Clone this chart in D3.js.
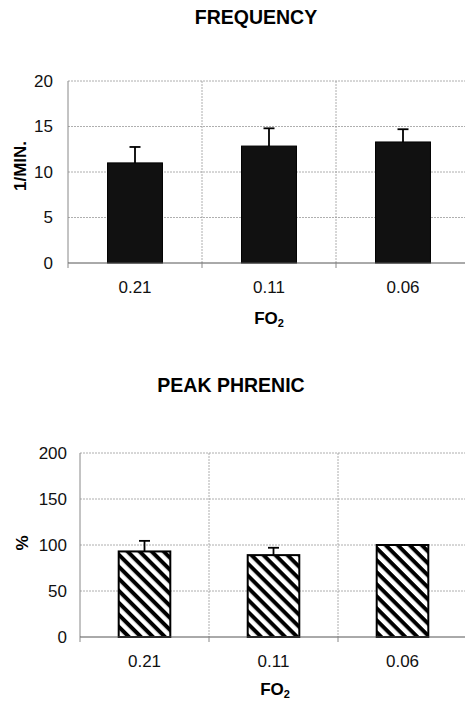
<!DOCTYPE html>
<html>
<head>
<meta charset="utf-8">
<script src="https://cdn.jsdelivr.net/npm/d3@7"></script>
<style>
  body { margin: 0; background: #fff; }
  svg { display: block; font-family: "Liberation Sans", Arial, sans-serif; }
  .grid line { stroke: #9a9a9a; stroke-width: 0.8; stroke-dasharray: 2,1; }
  .tick-label { font-size: 17px; fill: #111; }
  .title { font-size: 19.5px; font-weight: bold; text-anchor: middle; }
  .axis-title { font-size: 17px; font-weight: bold; text-anchor: middle; }
</style>
</head>
<body>
<svg id="fig" width="465" height="702"></svg>
<script>
// oxygen fraction categories shared by both panels
const fo2Levels = ["0.21", "0.11", "0.06"];

// breathing frequency (1/min), mean and upper error
const freqMean = [11.0, 12.85, 13.3];
const freqErr = [1.75, 1.95, 1.4];
const freqTicks = [0, 5, 10, 15, 20];

// peak phrenic amplitude (% of control)
const phrenicMean = [93, 89, 100];
const phrenicErr = [11.5, 8, 0];
const phrenicTicks = [0, 50, 100, 150, 200];

const svg = d3.select("#fig");

// diagonal hatch, lines running top-left to bottom-right
const defs = svg.append("defs");
const pat = defs.append("pattern")
    .attr("id", "hatch")
    .attr("patternUnits", "userSpaceOnUse")
    .attr("width", 8.5).attr("height", 8.5)
    .attr("patternTransform", "rotate(45)");
pat.append("rect").attr("width", 8.5).attr("height", 8.5).attr("fill", "#fff");
pat.append("rect").attr("x", 0).attr("y", 0).attr("width", 8.5).attr("height", 4).attr("fill", "#000");

function panel(cfg) {
    const g = svg.append("g").attr("transform", `translate(${cfg.left}, ${cfg.top})`);
    const w = cfg.width, h = cfg.height;

    const x = d3.scaleBand().domain(fo2Levels).range([0, w]);
    const y = d3.scaleLinear().domain([0, d3.max(cfg.ticks)]).range([h, 0]);

    const data = fo2Levels.map((c, i) => ({cat: c, v: cfg.mean[i], e: cfg.err[i]}));

    // horizontal gridlines
    g.append("g").attr("class", "grid")
        .selectAll("line").data(cfg.ticks.filter(t => t > 0)).join("line")
        .attr("x1", 0).attr("x2", w)
        .attr("y1", d => y(d)).attr("y2", d => y(d));

    // vertical gridlines at category boundaries
    const bounds = fo2Levels.slice(1).map(c => x(c)).concat([w]);
    g.append("g").attr("class", "grid")
        .selectAll("line").data(bounds).join("line")
        .attr("x1", d => d).attr("x2", d => d)
        .attr("y1", 0).attr("y2", h);

    // left axis line
    g.append("line").attr("x1", 0).attr("x2", 0).attr("y1", 0).attr("y2", h)
        .attr("stroke", "#888").attr("stroke-width", 1);

    // y tick labels
    g.selectAll(".ylab").data(cfg.ticks).join("text")
        .attr("class", "tick-label")
        .attr("x", cfg.yLabX).attr("y", d => y(d)).attr("dy", "0.35em")
        .attr("text-anchor", "end")
        .text(d => d);

    // bars
    const bw = x.bandwidth() * cfg.barFrac;
    g.selectAll(".bar").data(data).join("rect")
        .attr("x", d => x(d.cat) + (x.bandwidth() - bw) / 2)
        .attr("y", d => y(d.v))
        .attr("width", bw)
        .attr("height", d => h - y(d.v))
        .attr("fill", cfg.fill)
        .attr("stroke", "#000")
        .attr("stroke-width", cfg.stroke);

    // error bars (upper only)
    const eb = g.selectAll(".err").data(data.filter(d => d.e > 0)).join("g");
    eb.append("line")
        .attr("x1", d => x(d.cat) + x.bandwidth() / 2).attr("x2", d => x(d.cat) + x.bandwidth() / 2)
        .attr("y1", d => y(d.v)).attr("y2", d => y(d.v + d.e))
        .attr("stroke", "#000").attr("stroke-width", 1.8);
    eb.append("line")
        .attr("x1", d => x(d.cat) + x.bandwidth() / 2 - 5.5).attr("x2", d => x(d.cat) + x.bandwidth() / 2 + 5.5)
        .attr("y1", d => y(d.v + d.e)).attr("y2", d => y(d.v + d.e))
        .attr("stroke", "#000").attr("stroke-width", 1.8);

    // x axis line and ticks
    g.append("line").attr("x1", 0).attr("x2", w).attr("y1", h).attr("y2", h)
        .attr("stroke", "#555").attr("stroke-width", 1);
    g.selectAll(".xtick").data([0].concat(bounds)).join("line")
        .attr("x1", d => d).attr("x2", d => d).attr("y1", h).attr("y2", h + 5)
        .attr("stroke", "#888").attr("stroke-width", 1);

    g.selectAll(".xlab").data(fo2Levels).join("text")
        .attr("class", "tick-label")
        .attr("x", d => x(d) + x.bandwidth() / 2).attr("y", h + 24.5)
        .attr("dy", "0.35em")
        .attr("text-anchor", "middle")
        .text(d => d);

    // x axis title with subscript
    const xt = g.append("text").attr("class", "axis-title")
        .attr("x", cfg.xTitleX).attr("y", h + cfg.xTitleDy);
    xt.append("tspan").text("FO");
    xt.append("tspan").attr("dy", 3).style("font-size", "11px").text("2");

    // y axis title
    g.append("text").attr("class", "axis-title")
        .attr("transform", `translate(${cfg.yTitleX}, ${h / 2 + cfg.yTitleDy}) rotate(-90)`)
        .attr("dy", "0.35em")
        .text(cfg.yTitle);

    // panel title
    svg.append("text").attr("class", "title")
        .attr("x", cfg.titleX).attr("y", cfg.titleY)
        .text(cfg.title);
}

panel({
    left: 68, top: 81, width: 402, height: 182,
    ticks: freqTicks, mean: freqMean, err: freqErr,
    barFrac: 0.41, fill: "#111", stroke: 1,
    title: "FREQUENCY", titleX: 256, titleY: 24,
    yLabX: -15, yTitle: "1/MIN.", yTitleX: -48, yTitleDy: -6,
    xTitleX: 201, xTitleDy: 61
});

panel({
    left: 80, top: 453, width: 387, height: 184,
    ticks: phrenicTicks, mean: phrenicMean, err: phrenicErr,
    barFrac: 0.4, fill: "url(#hatch)", stroke: 2,
    title: "PEAK PHRENIC", titleX: 231, titleY: 392,
    yLabX: -13, yTitle: "%", yTitleX: -58, yTitleDy: -2,
    xTitleX: 195, xTitleDy: 58
});
</script>
</body>
</html>
